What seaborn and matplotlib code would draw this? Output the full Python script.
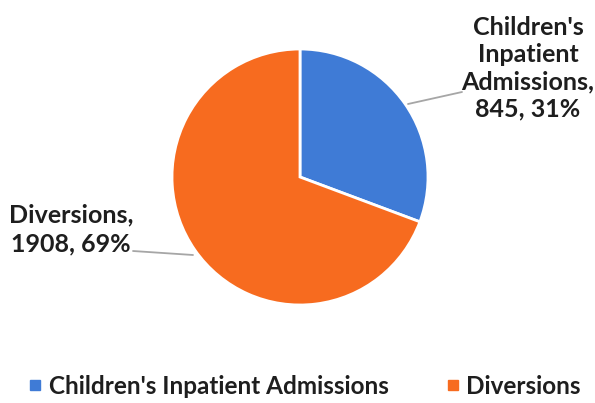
import matplotlib
matplotlib.use("Agg")
import matplotlib.pyplot as plt
from matplotlib.lines import Line2D
import seaborn as sns

categories = ["Children's Inpatient Admissions", "Diversions"]
counts = [845, 1908]
percent_labels = ["31%", "69%"]
label_texts = ["Children's\nInpatient\nAdmissions,\n845, 31%", "Diversions,\n1908, 69%"]
colors = ["#3F7BD6", "#F76B1F"]

sns.set_theme(style="white")
plt.rcParams["font.family"] = ["Lato", "DejaVu Sans"]

W, H = 595, 403
fig = plt.figure(figsize=(W / 100, H / 100), dpi=100)
cx, cy, r = 300, 177, 128
ax = fig.add_axes([(cx - r) / W, (H - cy - r) / H, 2 * r / W, 2 * r / H])
ax.pie(counts, colors=colors, startangle=90, counterclock=False, radius=1,
       wedgeprops=dict(edgecolor="white", linewidth=2))
ax.set_xlim(-1, 1)
ax.set_ylim(-1, 1)
ax.set_aspect("equal")
ax.axis("off")

def px(x, y):
    return ((x - cx) / r, (cy - y) / r)

# leader lines
for (x0, y0), (x1, y1) in [((408, 104), (462, 92)), ((193, 255), (133, 251))]:
    p0, p1 = px(x0, y0), px(x1, y1)
    ax.plot([p0[0], p1[0]], [p0[1], p1[1]], color="#A6A6A6", lw=1.3, clip_on=False)

tx, ty = px(528, 68)
ax.text(tx, ty, label_texts[0], ha="center", va="center", fontsize=18,
        fontweight="bold", color="#1E1E1E", linespacing=1.22)
tx, ty = px(71, 229)
ax.text(tx, ty, label_texts[1], ha="center", va="center", fontsize=18,
        fontweight="bold", color="#1E1E1E", linespacing=1.32)

handles = [Line2D([0], [0], marker="s", linestyle="none", markersize=6.5,
                  markerfacecolor=c, markeredgecolor=c) for c in colors]
fig.legend(handles, categories, loc="center", bbox_to_anchor=(305 / W, (H - 386) / H),
           ncol=2, frameon=False, prop=dict(family="Lato", weight="bold", size=17.5),
           handlelength=0.5, handletextpad=0.3, columnspacing=2.4,
           labelcolor="#1E1E1E")

fig.savefig("out.png", dpi=100)
